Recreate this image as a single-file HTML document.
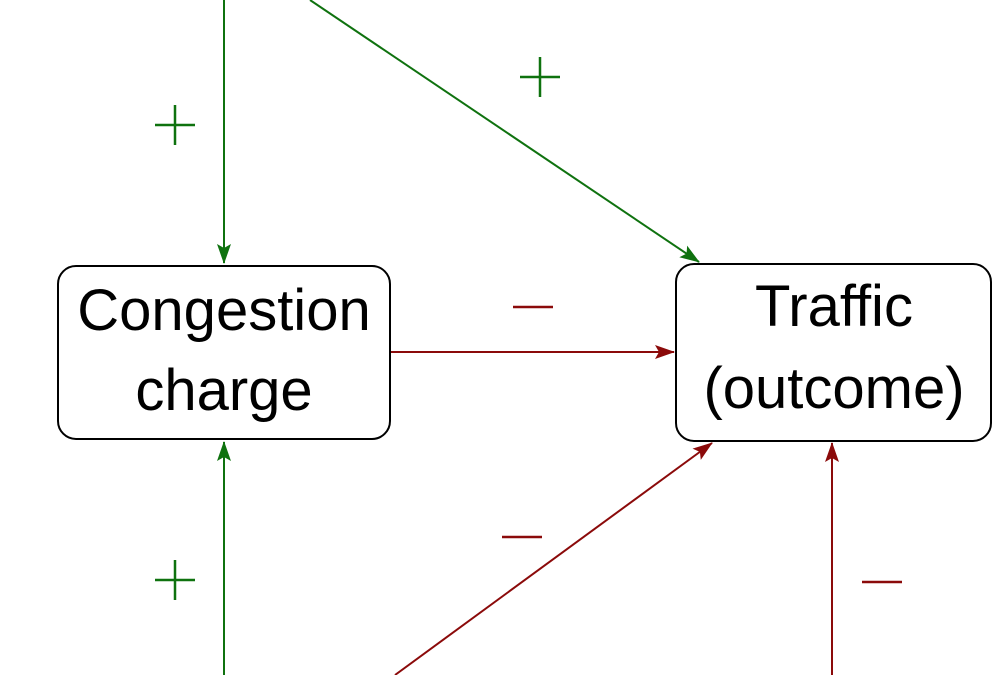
<!DOCTYPE html>
<html><head><meta charset="utf-8"><style>
html,body{margin:0;padding:0;background:#fff;}
svg{display:block;}
text{font-family:"Liberation Sans","DejaVu Sans",sans-serif;}
</style></head><body>
<svg width="992" height="675" viewBox="0 0 992 675" xmlns="http://www.w3.org/2000/svg">
<defs>
<marker id="ag" markerWidth="20" markerHeight="16" refX="19" refY="8" orient="auto" markerUnits="userSpaceOnUse" viewBox="0 0 20 16"><path d="M0,1 L20,8 L0,15 L4,8 z" fill="#0f720f"/></marker>
<marker id="ar" markerWidth="20" markerHeight="16" refX="19" refY="8" orient="auto" markerUnits="userSpaceOnUse" viewBox="0 0 20 16"><path d="M0,1 L20,8 L0,15 L4,8 z" fill="#8b0a0a"/></marker>
</defs>
<g stroke-width="2" fill="none">
<line x1="224" y1="0" x2="224" y2="263" stroke="#0f720f" marker-end="url(#ag)"/>
<line x1="310" y1="0" x2="699" y2="262" stroke="#0f720f" marker-end="url(#ag)"/>
<line x1="224" y1="675" x2="224" y2="442" stroke="#0f720f" marker-end="url(#ag)"/>
<line x1="391" y1="352" x2="674" y2="352" stroke="#8b0a0a" marker-end="url(#ar)"/>
<line x1="395" y1="675" x2="712" y2="443" stroke="#8b0a0a" marker-end="url(#ar)"/>
<line x1="832" y1="675" x2="832" y2="443" stroke="#8b0a0a" marker-end="url(#ar)"/>
</g>
<rect x="58" y="266" width="332" height="173" rx="18" fill="#fff" stroke="#000" stroke-width="2"/>
<rect x="676" y="264" width="315" height="177" rx="18" fill="#fff" stroke="#000" stroke-width="2"/>
<g font-size="58" text-anchor="middle" fill="#000">
<text x="224" y="330">Congestion</text>
<text x="224" y="410">charge</text>
<text x="834" y="326">Traffic</text>
<text x="834" y="408">(outcome)</text>
</g>
<g stroke-width="2.5">
<path d="M155,125 h40 M175,105 v40" stroke="#0f720f"/>
<path d="M520,77 h40 M540,57 v40" stroke="#0f720f"/>
<path d="M155,580 h40 M175,560 v40" stroke="#0f720f"/>
<path d="M513,307 h40" stroke="#8b0a0a"/>
<path d="M502,537 h40" stroke="#8b0a0a"/>
<path d="M862,582 h40" stroke="#8b0a0a"/>
</g>
</svg>
</body></html>
